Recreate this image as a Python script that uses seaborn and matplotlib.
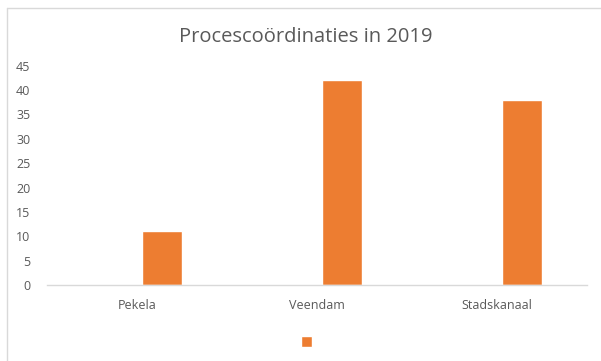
import pandas as pd
import seaborn as sns
import matplotlib.pyplot as plt
from matplotlib.lines import Line2D
from matplotlib.patches import Patch

# data
plaatsen = ["Pekela", "Veendam", "Stadskanaal"]
leeg = [None, None, None]          # lege eerste reeks (schuift de balken op zoals in Excel)
aantallen = [11, 42, 38]
reeksen = ["leeg", "aantal"]
y_ticks = [0, 5, 10, 15, 20, 25, 30, 35, 40, 45]

df = pd.DataFrame({
    "plaats": plaatsen * 2,
    "waarde": leeg + aantallen,
    "reeks": [reeksen[0]] * 3 + [reeksen[1]] * 3,
})
df["waarde"] = df["waarde"].astype(float)

sns.set_theme(style="white")
plt.rcParams["font.family"] = ["Open Sans", "DejaVu Sans"]

fig = plt.figure(figsize=(6.01, 3.61), dpi=100)
ax = fig.add_axes([47 / 601, 1 - 285 / 361, 540 / 601, (285 - 65.7) / 361])

sns.barplot(data=df, x="plaats", y="waarde", hue="reeks", hue_order=reeksen,
            order=plaatsen, palette=["#4472C4", "#ED7D31"], width=0.556, gap=0.2,
            saturation=1, errorbar=None, ax=ax, legend=False)

ax.set_ylim(0, 45)
ax.set_yticks(y_ticks)
ax.set_xlim(-0.5, 2.5)
ax.set_xlabel("")
ax.set_ylabel("")
for s in ["top", "right", "left"]:
    ax.spines[s].set_visible(False)
ax.spines["bottom"].set_color("#D9D9D9")
ax.spines["bottom"].set_linewidth(1)
ax.tick_params(axis="both", length=0, colors="#595959", labelsize=9)
ax.tick_params(axis="y", pad=12)
ax.tick_params(axis="x", pad=10)

fig.text(0.508, 1 - 37 / 361, "Procescoördinaties in 2019", ha="center", va="center",
         fontsize=14.5, color="#595959")

fig.legend(handles=[Patch(facecolor="#ED7D31")], labels=[""], loc="center",
           bbox_to_anchor=(0.52, 1 - 343 / 361), frameon=False, handlelength=0.7,
           handleheight=0.7)

# lichtgrijze rand van het grafiekgebied
fig.add_artist(Line2D([7 / 601, 1], [1 - 8 / 361, 1 - 8 / 361], color="#D9D9D9", lw=1))
fig.add_artist(Line2D([7 / 601, 7 / 601], [0, 1 - 8 / 361], color="#D9D9D9", lw=1))

fig.savefig("out.png", dpi=100, facecolor="white")
